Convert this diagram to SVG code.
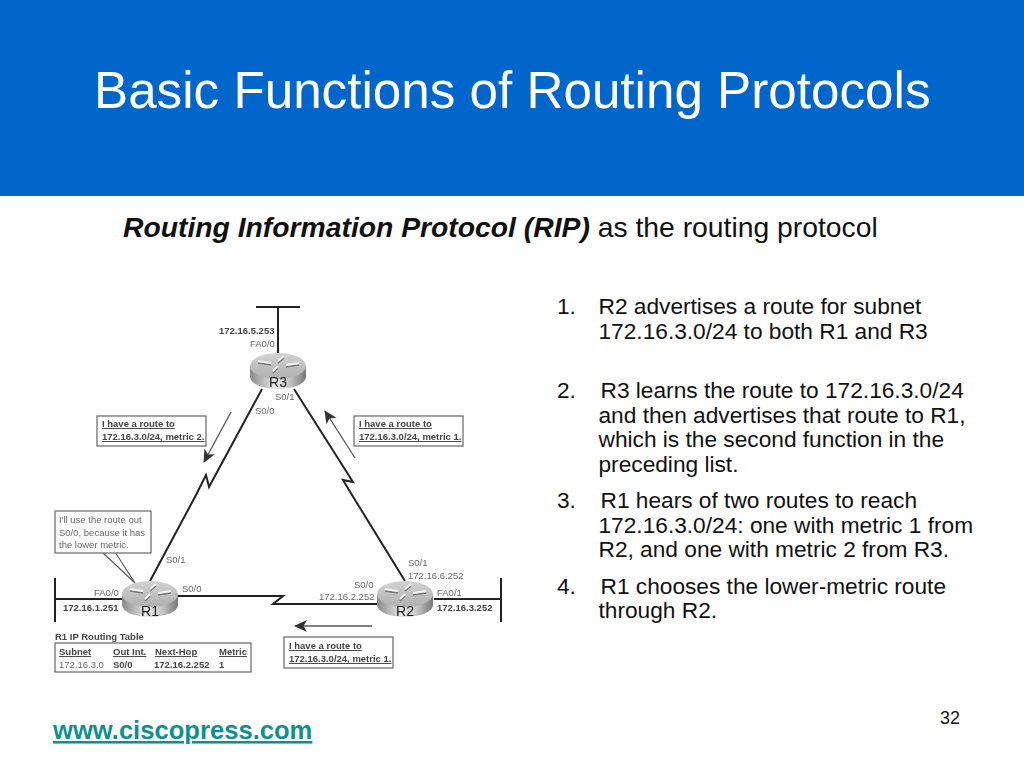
<svg xmlns="http://www.w3.org/2000/svg" width="1024" height="768" viewBox="0 0 1024 768">
<style>
text{font-family:"Liberation Sans",Arial,sans-serif}
.b{font-size:22.7px;fill:#111}
.d{font-size:9.5px;fill:#666}
.k{font-size:9.5px;font-weight:bold;fill:#444}
.u{text-decoration:underline}
.box{fill:#fff;stroke:#666;stroke-width:1.2}
.lnk{fill:none;stroke:#222;stroke-width:2;stroke-linejoin:miter}
.arr{stroke:#555;stroke-width:1.3;fill:none;marker-end:url(#ah)}
.rl{font-size:14px;fill:#222;text-anchor:middle}
.ic{fill:none;stroke:#f2f2f2;stroke-width:1.8}
.ics{fill:none;stroke:#777;stroke-width:1.6}
</style>
<defs>
<linearGradient id="side" x1="0" x2="1" y1="0" y2="0"><stop offset="0" stop-color="#8a8a8a"/><stop offset=".45" stop-color="#e8e8e8"/><stop offset=".7" stop-color="#c8c8c8"/><stop offset="1" stop-color="#777"/></linearGradient>
<linearGradient id="top" x1="0" x2="0" y1="0" y2="1"><stop offset="0" stop-color="#d2d2d2"/><stop offset="1" stop-color="#b0b0b0"/></linearGradient>
<marker id="ah" markerUnits="userSpaceOnUse" markerWidth="15" markerHeight="13" refX="12" refY="6" orient="auto"><path d="M0 0 L13 6 L0 12 L3.5 6Z" fill="#333"/></marker>
<filter id="soft" x="-5%" y="-5%" width="110%" height="110%"><feGaussianBlur stdDeviation="0.45"/></filter>
<g id="router">
<path d="M-28 -2 V9 A28 12 0 0 0 28 9 V-2Z" fill="url(#side)"/>
<ellipse cx="0" cy="-2" rx="28" ry="13" fill="url(#top)"/>
<path class="ics" d="M-20 -5 L-7 -3 M21 -3 L8 -1 M6 -10 L0 -5 M-5 5 L0 0"/>
<path class="ic" d="M-20 -7 L-7 -5 M21 -5 L8 -3 M6 -12 L0 -7 M-5 3 L0 -2"/>
</g>
</defs>
<rect width="1024" height="768" fill="#fff"/>
<rect id="header" width="1024" height="196" fill="#0066cc"/>
<text id="title" x="94" y="108" font-size="51.2" fill="#fff">Basic Functions of Routing Protocols</text>
<text id="subtitle" x="123" y="237" font-size="28.3" fill="#111"><tspan font-weight="bold" font-style="italic">Routing Information Protocol (RIP)</tspan> as the routing protocol</text>
<g id="list">
<text class="b" x="557" y="314">1.</text><text class="b" x="598.5" y="314">R2 advertises a route for subnet</text>
<text class="b" x="598.5" y="339">172.16.3.0/24 to both R1 and R3</text>
<text class="b" x="557" y="398">2.</text><text class="b" x="600.5" y="398">R3 learns the route to 172.16.3.0/24</text>
<text class="b" x="598.5" y="423">and then advertises that route to R1,</text>
<text class="b" x="598.5" y="447">which is the second function in the</text>
<text class="b" x="598.5" y="472">preceding list.</text>
<text class="b" x="557" y="508">3.</text><text class="b" x="600.5" y="508">R1 hears of two routes to reach</text>
<text class="b" x="598.5" y="533">172.16.3.0/24: one with metric 1 from</text>
<text class="b" x="598.5" y="557">R2, and one with metric 2 from R3.</text>
<text class="b" x="557" y="594">4.</text><text class="b" x="600.5" y="594">R1 chooses the lower-metric route</text>
<text class="b" x="598.5" y="618">through R2.</text>
</g>
<text id="page" x="940" y="724" font-size="18" fill="#111">32</text>
<text id="link" x="53" y="739" font-size="25.6" font-weight="bold" fill="#0f9090" class="u">www.ciscopress.com</text>
<g filter="url(#soft)">
<g id="connectors">
<path class="lnk" d="M256 307H300M278 307V354"/>
<path class="lnk" d="M262 389L209 487L206 475L196 495L150 581" id="c-r3-r1"/>
<path class="lnk" d="M294 389L353 482L343 480L352 495L405 581" id="c-r3-r2"/>
<path class="lnk" d="M178 596H283L273 604H377" id="c-r1-r2"/>
<path class="lnk" d="M55 578V622M55 599H122" id="c-r1-lan"/>
<path class="lnk" d="M434 599H501M501 578V622" id="c-r2-lan"/>
<path d="M102 552L135 583L115 552" fill="#fff" stroke="#555" stroke-width="1.1" id="c-callout"/>
<path class="arr" d="M231 412L204 462"/>
<path class="arr" d="M355 458L325 411"/>
<path class="arr" d="M372 626H295"/>
</g>
<g id="R3"><use href="#router" x="278" y="368"/><text class="rl" x="278" y="387">R3</text>
<text class="k" x="219" y="334">172.16.5.253</text><text class="d" x="250" y="347">FA0/0</text>
<text class="d" x="275" y="400">S0/1</text><text class="d" x="255" y="414">S0/0</text></g>
<g id="R1"><use href="#router" x="150" y="596"/><text class="rl" x="150" y="616">R1</text>
<text class="d" x="94" y="596">FA0/0</text><text class="k" x="63" y="611">172.16.1.251</text>
<text class="d" x="166" y="563">S0/1</text><text class="d" x="182" y="592">S0/0</text></g>
<g id="R2"><use href="#router" x="405" y="596"/><text class="rl" x="405" y="616">R2</text>
<text class="d" x="408" y="566">S0/1</text><text class="d" x="408" y="579">172.16.6.252</text>
<text class="d" x="354" y="588">S0/0</text><text class="d" x="319" y="600">172.16.2.252</text>
<text class="d" x="437" y="596">FA0/1</text><text class="k" x="437" y="611">172.16.3.252</text></g>
<g id="msg-r3-r1"><rect class="box" x="97" y="416" width="109" height="30"/><text class="k u" x="102" y="427">I have a route to</text><text class="k u" x="102" y="440">172.16.3.0/24, metric 2.</text></g>
<g id="msg-r3-r2"><rect class="box" x="354" y="416" width="109" height="30"/><text class="k u" x="359" y="427">I have a route to</text><text class="k u" x="359" y="440">172.16.3.0/24, metric 1.</text></g>
<g id="msg-r2-r1"><rect class="box" x="284" y="637" width="109" height="31"/><text class="k u" x="289" y="649">I have a route to</text><text class="k u" x="289" y="662">172.16.3.0/24, metric 1.</text></g>
<g id="callout"><rect class="box" x="55" y="511" width="96" height="42"/><text class="d" x="59" y="523">I'll use the route out</text><text class="d" x="59" y="536">S0/0, because it has</text><text class="d" x="59" y="548">the lower metric.</text></g>
<g id="table">
<text class="k" x="55" y="640">R1 IP Routing Table</text>
<rect class="box" x="55" y="643" width="196" height="29"/>
<text class="k u" x="59" y="655">Subnet</text><text class="k u" x="113" y="655">Out Int.</text><text class="k u" x="155" y="655">Next-Hop</text><text class="k u" x="219" y="655">Metric</text>
<text class="d" x="59" y="668">172.16.3.0</text><text class="k" x="113" y="668">S0/0</text><text class="k" x="154" y="668">172.16.2.252</text><text class="k" x="219" y="668">1</text>
</g>
</g>
</svg>
